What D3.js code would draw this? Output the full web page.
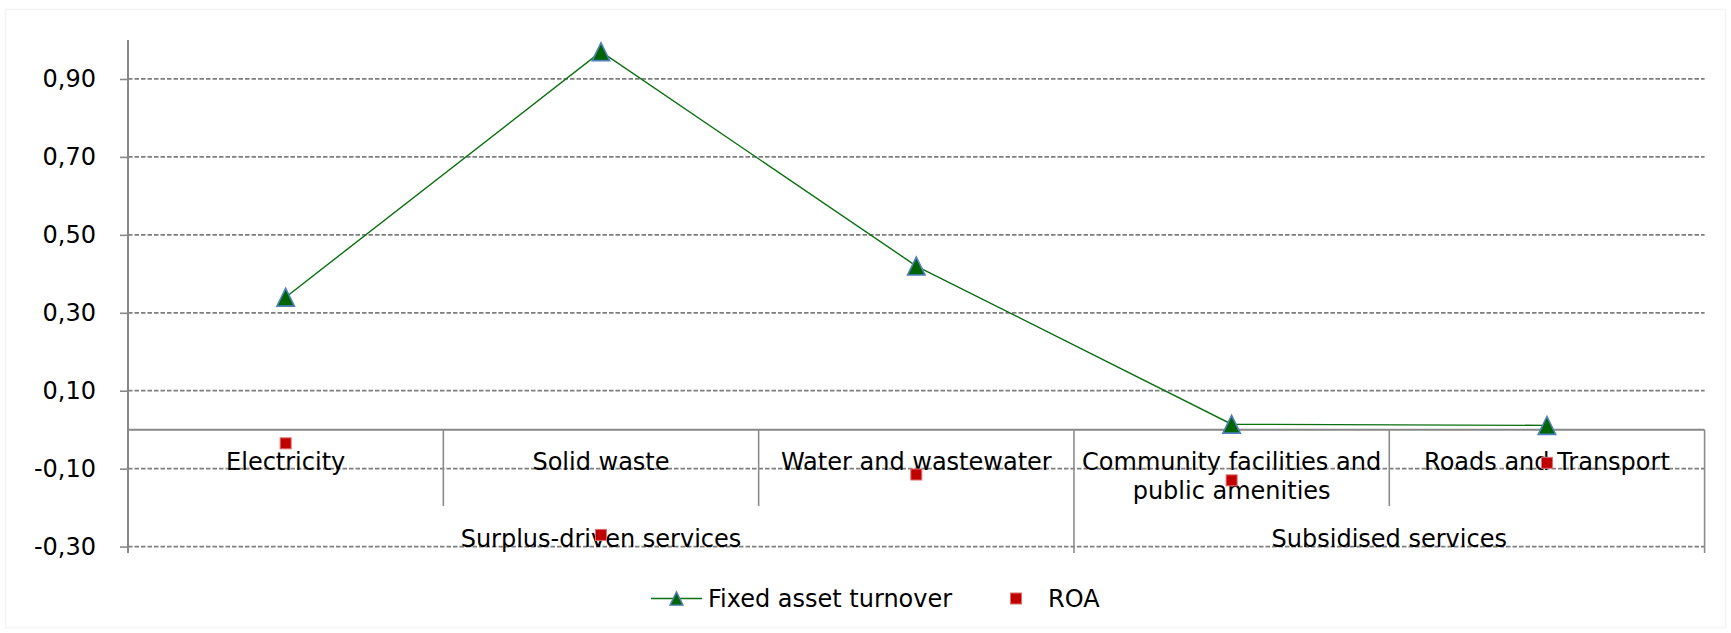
<!DOCTYPE html>
<html>
<head>
<meta charset="utf-8">
<script src="https://cdn.jsdelivr.net/npm/d3@7"></script>
<style>
  html, body { margin: 0; padding: 0; background: #fff; }
  svg { display: block; }
  text { font-family: "DejaVu Sans", Verdana, sans-serif; fill: #000; }
</style>
</head>
<body>
<svg id="chart" width="1731" height="633"></svg>
<script>
// Categories (each entry lists the lines of its label)
const categories = [
  ["Electricity"],
  ["Solid waste"],
  ["Water and wastewater"],
  ["Community facilities and", "public amenities"],
  ["Roads and Transport"]
];
// Outer category level: group names and how many categories each spans
const groupNames = ["Surplus-driven services", "Subsidised services"];
const groupSizes = [3, 2];

// Series values
const fixedAssetTurnover = [0.34, 0.97, 0.42, 0.014, 0.011];
const roa = [-0.035, -0.27, -0.115, -0.13, -0.085];

// Value axis ticks
const yTicks = [-0.3, -0.1, 0.1, 0.3, 0.5, 0.7, 0.9];
const yDomain = [-0.3, 1.0];

const seriesNames = ["Fixed asset turnover", "ROA"];

const svg = d3.select("#chart");
const W = 1731, H = 633;
const plot = { left: 128, right: 1704.6, top: 40, bottom: 546.6 };
const FONT = 24;

const x = d3.scaleBand()
  .domain(d3.range(categories.length))
  .range([plot.left, plot.right])
  .padding(0);
const y = d3.scaleLinear().domain(yDomain).range([plot.bottom, plot.top]);

const locale = d3.formatLocale({ decimal: ",", thousands: ".", grouping: [3], currency: ["", ""], minus: "-" });
const fmt = locale.format(".2f");

// faint outer frame of the chart area
svg.append("rect")
  .attr("x", 5.5).attr("y", 9.5)
  .attr("width", W - 11).attr("height", H - 15)
  .attr("fill", "none").attr("stroke", "#f4f4f4").attr("stroke-width", 1.5);

// horizontal dashed gridlines
svg.append("g").selectAll("line")
  .data(yTicks)
  .join("line")
  .attr("x1", plot.left).attr("x2", plot.right)
  .attr("y1", d => y(d)).attr("y2", d => y(d))
  .attr("stroke", "#7f7f7f")
  .attr("stroke-width", 1.7)
  .attr("stroke-dasharray", "4.5,2");

// value axis with ticks and labels
const yAxis = svg.append("g")
  .attr("transform", `translate(${plot.left},0)`)
  .call(d3.axisLeft(y).tickValues(yTicks).tickFormat(fmt).tickSize(8).tickPadding(24));
yAxis.select(".domain").remove();
yAxis.selectAll(".tick line").attr("stroke", "#888").attr("stroke-width", 1.6);
yAxis.selectAll(".tick text")
  .attr("font-size", FONT)
  .attr("font-family", "DejaVu Sans, Verdana, sans-serif")
  .attr("fill", "#000");

const outerBottom = 553;
const innerBottom = 506;
const y0 = y(0);

// vertical axis line
svg.append("line")
  .attr("x1", plot.left).attr("x2", plot.left)
  .attr("y1", plot.top).attr("y2", outerBottom)
  .attr("stroke", "#888").attr("stroke-width", 2);

// category axis at zero
svg.append("line")
  .attr("x1", plot.left).attr("x2", plot.right)
  .attr("y1", y0).attr("y2", y0)
  .attr("stroke", "#888").attr("stroke-width", 2);

// dividers between categories (inner level) and groups (outer level)
const groupEdges = [0];
groupSizes.forEach(s => groupEdges.push(groupEdges[groupEdges.length - 1] + s));
const edgeX = i => (i >= categories.length ? plot.right : x(i));
const dividers = d3.range(1, categories.length + 1).map(i => ({
  x: edgeX(i),
  outer: groupEdges.includes(i)
}));
svg.append("g").selectAll("line")
  .data(dividers)
  .join("line")
  .attr("x1", d => d.x).attr("x2", d => d.x)
  .attr("y1", y0).attr("y2", d => d.outer ? outerBottom : innerBottom)
  .attr("stroke", "#8c8c8c").attr("stroke-width", 1.6);

// category labels
const catG = svg.append("g").attr("font-size", FONT).attr("text-anchor", "middle");
categories.forEach((lines, i) => {
  const t = catG.append("text")
    .attr("x", x(i) + x.bandwidth() / 2)
    .attr("y", y0 + 40.5);
  lines.forEach((ln, k) => {
    t.append("tspan")
      .attr("x", x(i) + x.bandwidth() / 2)
      .attr("dy", k === 0 ? 0 : 28.5)
      .text(ln);
  });
});

// group labels
groupNames.forEach((g, j) => {
  const a = edgeX(groupEdges[j]), b = edgeX(groupEdges[j + 1]);
  catG.append("text")
    .attr("x", (a + b) / 2)
    .attr("y", 547)
    .text(g);
});

// triangle marker centred on its bounding box
const triangle = {
  draw(ctx, size) {
    const w = Math.sqrt(size), h = w * 1.02;
    ctx.moveTo(0, -h / 2);
    ctx.lineTo(w / 2, h / 2);
    ctx.lineTo(-w / 2, h / 2);
    ctx.closePath();
  }
};
const triPath = d3.symbol().type(triangle);
const cx = i => x(i) + x.bandwidth() / 2;

// Fixed asset turnover line
svg.append("path")
  .datum(fixedAssetTurnover)
  .attr("fill", "none")
  .attr("stroke", "#0a7010")
  .attr("stroke-width", 1.4)
  .attr("d", d3.line().x((d, i) => cx(i)).y(d => y(d)));

// ROA markers
svg.append("g").selectAll("rect")
  .data(roa)
  .join("rect")
  .attr("x", (d, i) => cx(i) - 5.5)
  .attr("y", d => y(d) - 5.5)
  .attr("width", 11).attr("height", 11)
  .attr("fill", "#c00000")
  .attr("stroke", "#e07070")
  .attr("stroke-width", 1);

// Fixed asset turnover markers
svg.append("g").selectAll("path")
  .data(fixedAssetTurnover)
  .join("path")
  .attr("transform", (d, i) => `translate(${cx(i)},${y(d)})`)
  .attr("d", triPath.size(17.5 * 17.5))
  .attr("fill", "#006400")
  .attr("stroke", "#4f81bd")
  .attr("stroke-width", 1.6);

// legend
const leg = svg.append("g").attr("font-size", FONT);
const ly = 598.5;
leg.append("line")
  .attr("x1", 651).attr("x2", 702)
  .attr("y1", ly).attr("y2", ly)
  .attr("stroke", "#0a7010").attr("stroke-width", 1.4);
leg.append("path")
  .attr("transform", `translate(676.5,${ly})`)
  .attr("d", triPath.size(13 * 13))
  .attr("fill", "#006400")
  .attr("stroke", "#4f81bd")
  .attr("stroke-width", 1.4);
leg.append("text").attr("x", 708).attr("y", ly + 8).text(seriesNames[0]);
leg.append("rect")
  .attr("x", 1010.5).attr("y", ly - 5.5)
  .attr("width", 11).attr("height", 11)
  .attr("fill", "#c00000").attr("stroke", "#e07070").attr("stroke-width", 1);
leg.append("text").attr("x", 1048).attr("y", ly + 8).text(seriesNames[1]);
</script>
</body>
</html>
